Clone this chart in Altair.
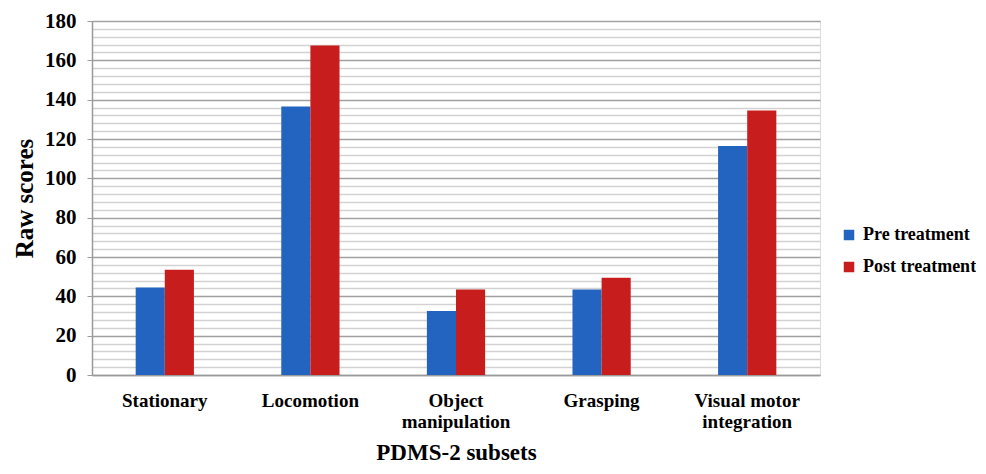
import altair as alt
import pandas as pd

categories = ["Stationary", "Locomotion", "Object manipulation", "Grasping", "Visual motor integration"]
series = ["Pre treatment", "Post treatment"]
pre_values = [44.5, 136.5, 32.5, 43.5, 116.5]
post_values = [53.5, 167.5, 43.5, 49.5, 134.5]
colors = ["#2364c0", "#c71e1d"]

rows = []
for c, a, b in zip(categories, pre_values, post_values):
    rows.append({"subset": c, "series": series[0], "score": a})
    rows.append({"subset": c, "series": series[1], "score": b})
df = pd.DataFrame(rows)

FONT = "Liberation Serif"

label_expr = ("datum.value == 'Object manipulation' ? ['Object', 'manipulation'] : "
              "datum.value == 'Visual motor integration' ? ['Visual motor', 'integration'] : datum.label")

chart = alt.Chart(df).mark_bar().encode(
    x=alt.X("subset:N", sort=categories,
            scale=alt.Scale(paddingInner=0.6, paddingOuter=0.3),
            axis=alt.Axis(title="PDMS-2 subsets", labelAngle=0, labelExpr=label_expr,
                          labelFont=FONT, labelFontSize=19, labelFontWeight="bold",
                          labelColor="black", labelPadding=16, labelBaseline="top",
                          labelLineHeight=21,
                          ticks=False, domain=True, domainColor="#9a9a9a", domainWidth=1.5,
                          titleFont=FONT, titleFontSize=23, titleFontWeight="bold",
                          titleColor="black", titlePadding=10, grid=False)),
    xOffset=alt.XOffset("series:N", sort=series),
    y=alt.Y("score:Q", scale=alt.Scale(domain=[0, 180], nice=False),
            axis=alt.Axis(title="Raw scores", values=list(range(0, 181, 4)),
                          labelExpr="datum.value % 20 === 0 ? datum.label : ''",
                          labelOverlap=False, labelFont=FONT, labelFontSize=21,
                          labelFontWeight="bold", labelColor="black", labelPadding=11,
                          tickSize=5, tickColor="#9a9a9a",
                          tickOpacity={"condition": {"test": "datum.value % 20 === 0", "value": 1}, "value": 0},
                          domainColor="#9a9a9a", domainWidth=1.5,
                          grid=True,
                          gridColor={"condition": {"test": "datum.value % 20 === 0", "value": "#a0a0a0"}, "value": "#d2d2d2"},
                          gridWidth=1.5,
                          titleFont=FONT, titleFontSize=25, titleFontWeight="bold",
                          titleColor="black", titlePadding=7)),
    color=alt.Color("series:N", sort=series,
                    scale=alt.Scale(domain=series, range=colors),
                    legend=alt.Legend(title=None, orient="none", legendX=748, legendY=205,
                                      symbolType="square", symbolSize=110, symbolStrokeWidth=0,
                                      labelFont=FONT, labelFontSize=18, labelFontWeight="bold",
                                      labelColor="black", rowPadding=14, labelOffset=5)),
).properties(width=728, height=354, autosize=alt.AutoSizeParams(type="none"))

chart = chart.configure_view(stroke=None).configure(
    padding={"left": 84, "top": 13, "right": 156, "bottom": 90})

chart.save("out.html", embed_options={"renderer": "svg", "actions": False})
